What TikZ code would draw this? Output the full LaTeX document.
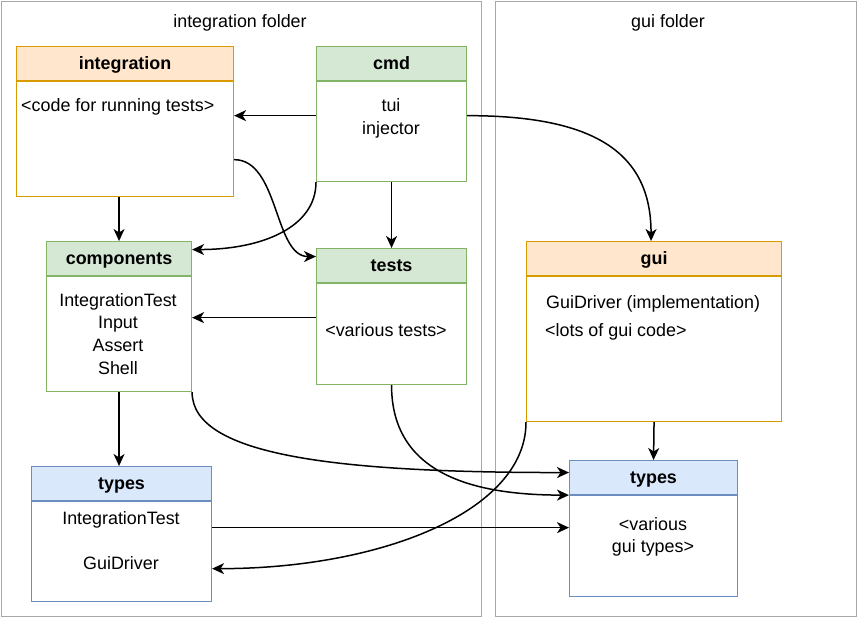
\documentclass[tikz,border=0pt]{standalone}
\usepackage{fontspec}
\setmainfont{Liberation Sans}
\usetikzlibrary{arrows.meta, positioning, calc}

\definecolor{orangefill}{HTML}{FFE6CC}
\definecolor{orangeline}{HTML}{D79B00}
\definecolor{greenfill}{HTML}{D5E8D4}
\definecolor{greenline}{HTML}{82B366}
\definecolor{bluefill}{HTML}{DAE8FC}
\definecolor{blueline}{HTML}{6C8EBF}
\definecolor{folderline}{HTML}{A8A8A8}

\newcommand{\boxfont}{\fontsize{17.9}{22.7}\selectfont}

\tikzset{
  folder/.style={draw=folderline, line width=1.4pt, anchor=north west, inner sep=0pt},
  hdr/.style={anchor=north west, minimum height=34pt, inner sep=0pt, line width=1.1pt,
    text height=14pt, text depth=3pt, font=\boxfont\bfseries},
  orangehdr/.style={hdr, draw=orangeline, fill=orangefill},
  greenhdr/.style={hdr, draw=greenline, fill=greenfill},
  bluehdr/.style={hdr, draw=blueline, fill=bluefill},
  body/.style={anchor=north west, inner sep=0pt, line width=1.1pt, fill=white},
  txt/.style={inner sep=0pt, align=center, font=\boxfont},
  dep/.style={-{Stealth[length=12pt, width=11pt, inset=3.5pt]}, line width=1.5pt},
}

\begin{document}
\begin{tikzpicture}[x=1pt, y=-1pt]
  \useasboundingbox (0,0) rectangle (857,617);

  % folders
  \node[folder, minimum width=480pt, minimum height=615.5pt] (intfolder) at (0.7,0.7) {};
  \node[folder, minimum width=361pt, minimum height=615.5pt] (guifolder) at (495,0.7) {};
  \node[txt] (intfoldert) at (240,23) {integration folder};
  \node[txt] (guifoldert) at (668,23) {gui folder};

  % integration folder
  \node[orangehdr, minimum width=217pt] (integh) at (16,46) {integration};
  \node[body, draw=orangeline, minimum width=217pt, minimum height=115pt] (integb) at (integh.south west) {};
  \node[txt, anchor=north west] (integt) at (21,98.5) {<code for running tests>};

  \node[greenhdr, minimum width=150pt] (cmdh) at (316,46) {cmd};
  \node[body, draw=greenline, minimum width=150pt, minimum height=100pt] (cmdb) at (cmdh.south west) {};
  \node[txt, anchor=north] (cmdt) at (391,98.5) {tui\\injector};

  \node[greenhdr, minimum width=145pt] (comph) at (46,241) {components};
  \node[body, draw=greenline, minimum width=145pt, minimum height=115pt] (compb) at (comph.south west) {};
  \node[txt, anchor=north] (compt) at (118,293) {IntegrationTest\\Input\\Assert\\Shell};

  \node[greenhdr, minimum width=150pt] (testsh) at (316,248) {tests};
  \node[body, draw=greenline, minimum width=150pt, minimum height=101pt] (testsb) at (testsh.south west) {};
  \node[txt, anchor=north] (testst) at (386,323) {<various tests>};

  \node[bluehdr, minimum width=180pt] (ltypesh) at (31,466) {types};
  \node[body, draw=blueline, minimum width=180pt, minimum height=100pt] (ltypesb) at (ltypesh.south west) {};
  \node[txt, anchor=north] (ltypest) at (121,511) {IntegrationTest\\[22.7pt]GuiDriver};

  % gui folder
  \node[orangehdr, minimum width=255pt] (guih) at (526,241) {gui};
  \node[body, draw=orangeline, minimum width=255pt, minimum height=145pt] (guib) at (guih.south west) {};
  \node[txt, anchor=north west] (guit) at (546,295) {GuiDriver (implementation)};
  \node[txt, anchor=north west] (guicode) at (545,323) {<lots of gui code>};

  \node[bluehdr, minimum width=168pt] (rtypesh) at (569,460) {types};
  \node[body, draw=blueline, minimum width=168pt, minimum height=101pt] (rtypesb) at (rtypesh.south west) {};
  \node[txt, anchor=north] (rtypest) at (653,517) {<various\\gui types>};

  % dependencies
  \draw[dep] ([yshift=16pt]cmdb.west) -- ([yshift=16pt]cmdb.west -| integb.east);
  \draw[dep] (cmdb.south) -- (testsh.north);
  \draw[dep] (integb.south -| comph.north) -- (comph.north);
  \draw[dep] ([yshift=-20.5pt]integb.east) .. controls +(45,0) and +(-42,0) .. ([yshift=9pt]testsh.west);
  \draw[dep] (cmdb.south west) .. controls +(0,45) and +(70,0) .. ([yshift=9pt]comph.east);
  \draw[dep] ([yshift=16pt]cmdb.east) .. controls +(125,0) and +(0,-90) .. ([xshift=-3pt]guih.north);
  \draw[dep] ([yshift=16.5pt]testsb.west) -- ([yshift=16.5pt]testsb.west -| compb.east);
  \draw[dep] (compb.south) -- (compb.south |- ltypesh.north);
  \draw[dep] (compb.south east) .. controls +(0,64) and +(-230,0) .. ([yshift=5pt]rtypesh.west);
  \draw[dep] (testsb.south) .. controls +(0,87) and +(-99,0) .. (rtypesh.south west);
  \draw[dep] ([yshift=24pt]ltypesb.east) -- ([yshift=24pt]ltypesb.east -| rtypesb.west);
  \draw[dep] (guib.south west) .. controls +(0,89) and +(169,0) .. ([yshift=-17pt]ltypesb.east);
  \draw[dep] (guib.south) -- (rtypesh.north);
\end{tikzpicture}
\end{document}
